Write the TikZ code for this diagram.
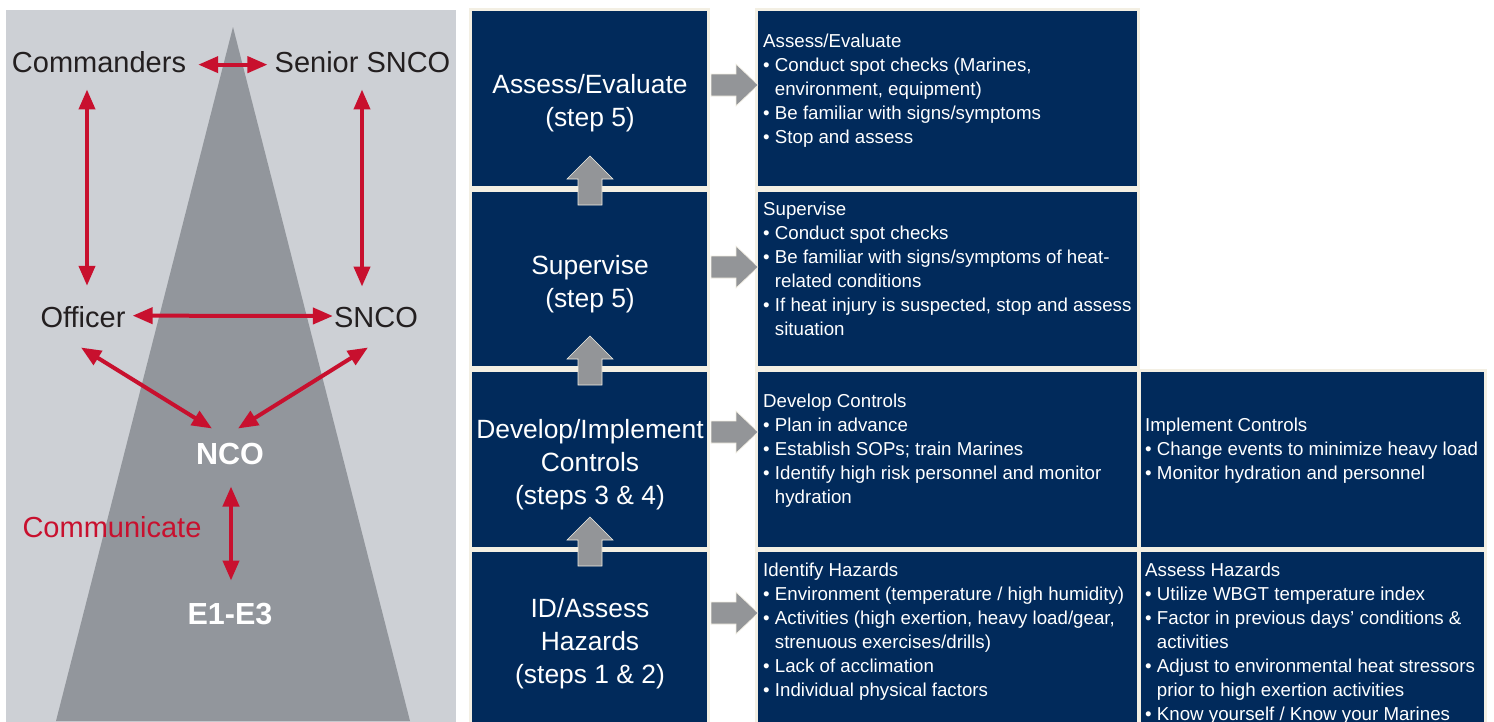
\documentclass[tikz,border=0pt]{standalone}
\usepackage{fontspec}
\setmainfont{Liberation Sans}
\usetikzlibrary{arrows.meta,calc}
\definecolor{panel}{HTML}{CDD0D5}
\definecolor{tri}{HTML}{92969C}
\definecolor{navy}{HTML}{012A5B}
\definecolor{cream}{HTML}{F3EFE3}
\definecolor{redc}{HTML}{C8102E}
\definecolor{darktxt}{HTML}{231F20}
\definecolor{garrow}{HTML}{939598}
\newcommand\ind{\hphantom{•\ }}
\begin{document}
\begin{tikzpicture}[x=1pt,y=-1pt,
  cell/.style={draw=cream, fill=navy, line width=3pt, outer sep=0pt, inner sep=0pt, anchor=north west},
  rank/.style={font=\fontsize{29}{34}\selectfont, text=darktxt, inner sep=0pt, anchor=base},
  rankw/.style={font=\fontsize{30.5}{36}\selectfont\bfseries, text=white, inner sep=0pt, anchor=base},
  link/.style={draw=redc, line width=4pt, {Triangle[length=20pt,width=16pt]}-{Triangle[length=20pt,width=16pt]}},
  steptxt/.style={text=white, font=\fontsize{26.4}{33}\selectfont, align=center, inner sep=0pt},
  detail/.style={text=white, font=\fontsize{18.7}{24}\selectfont, align=left, inner sep=0pt, anchor=base west},
  blockarrow/.style={fill=garrow, draw=cream, line width=0.6pt}
]
\clip (0,0) rectangle (1494,721);
\fill[white] (0,0) rectangle (1494,721);
% left panel
\fill[panel] (6,10) rectangle (456,730);
\fill[tri] (233,27) -- (410,721) -- (56,721) -- cycle;

\node[rank] (cmd) at (99,72) {Commanders};
\node[rank] (ssnco) at (362.5,72) {Senior SNCO};
\node[rank] (off) at (83,327) {Officer};
\node[rank] (snco) at (376,327) {SNCO};
\node[rankw] (nco) at (230,464) {NCO};
\node[rankw] (e1) at (230,624) {E1-E3};
\node[rank, text=redc] (comm) at (112,537) {Communicate};

\draw[link] ($(cmd.east)+(12,3)$) -- ($(ssnco.west)+(-7,3)$);
\draw[link] ($(cmd.south)+(-12,17)$) -- ($(off.north)+(4,-20)$);
\draw[link] ($(ssnco.south)+(-0.5,17)$) -- ($(snco.north)+(-14,-20)$);
\draw[link] ($(off.east)+(7,-1)$) -- ($(snco.west)+(-1,-1)$);
\draw[link] ($(off.south)+(-2,20)$) -- ($(nco.north)+(-18,-14)$);
\draw[link] ($(snco.south)+(-8,20)$) -- ($(nco.north)+(8,-14)$);
\draw[link] ($(nco.south)+(1,22)$) -- ($(e1.north)+(1,-22)$);

% step cells
\node[cell, minimum width=238pt, minimum height=178pt] (s5a) at (470.5,9.5) {};
\node[cell, minimum width=238pt, minimum height=177pt] (s5s) at (470.5,190.5) {};
\node[cell, minimum width=238pt, minimum height=178pt] (s34) at (470.5,370.5) {};
\node[cell, minimum width=238pt, minimum height=200pt] (s12) at (470.5,550.5) {};
% detail cells
\node[cell, minimum width=382pt, minimum height=178pt] (m1) at (756.5,9.5) {};
\node[cell, minimum width=382pt, minimum height=177pt] (m2) at (756.5,190.5) {};
\node[cell, minimum width=382pt, minimum height=178pt] (m3) at (756.5,370.5) {};
\node[cell, minimum width=382pt, minimum height=200pt] (m4) at (756.5,550.5) {};
\node[cell, minimum width=346pt, minimum height=178pt] (r3) at (1139.5,370.5) {};
\node[cell, minimum width=346pt, minimum height=200pt] (r4) at (1139.5,550.5) {};

% step texts
\node[steptxt] (t5a) at (590,103.5) {Assess/Evaluate\\(step 5)};
\node[steptxt] (t5s) at (590,284.5) {Supervise\\(step 5)};
\node[steptxt] (t34) at (590,465) {Develop/Implement\\Controls\\(steps 3 \& 4)};
\node[steptxt] (t12) at (590,644) {ID/Assess\\Hazards\\(steps 1 \& 2)};

% detail texts (anchored at the baseline of the last line)
\node[detail] (d1) at (763,143) {Assess/Evaluate\\
• Conduct spot checks (Marines,\\
\ind environment, equipment)\\
• Be familiar with signs/symptoms\\
• Stop and assess};
\node[detail] (d2) at (763,335) {Supervise\\
• Conduct spot checks\\
• Be familiar with signs/symptoms of heat-\\
\ind related conditions\\
• If heat injury is suspected, stop and assess\\
\ind situation};
\node[detail] (d3) at (763,503) {Develop Controls\\
• Plan in advance\\
• Establish SOPs; train Marines\\
• Identify high risk personnel and monitor\\
\ind hydration};
\node[detail] (d3r) at (1145,479) {Implement Controls\\
• Change events to minimize heavy load\\
• Monitor hydration and personnel};
\node[detail] (d4) at (763,696) {Identify Hazards\\
• Environment (temperature / high humidity)\\
• Activities (high exertion, heavy load/gear,\\
\ind strenuous exercises/drills)\\
• Lack of acclimation\\
• Individual physical factors};
\node[detail] (d4r) at (1145,720) {Assess Hazards\\
• Utilize WBGT temperature index\\
• Factor in previous days’ conditions \&\\
\ind activities\\
• Adjust to environmental heat stressors\\
\ind prior to high exertion activities\\
• Know yourself / Know your Marines};

% block arrows to the right
\draw[blockarrow] ($(s5a.east)+(2.5,-24.5)$) -- ++(25,0) -- ++(0,-10) -- ++(22,21) -- ++(-22,21) -- ++(0,-10) -- ++(-25,0) -- cycle;
\draw[blockarrow] ($(s5s.east)+(2.5,-23)$) -- ++(25,0) -- ++(0,-10) -- ++(22,21) -- ++(-22,21) -- ++(0,-10) -- ++(-25,0) -- cycle;
\draw[blockarrow] ($(s34.east)+(2.5,-38.5)$) -- ++(25,0) -- ++(0,-10) -- ++(22,21) -- ++(-22,21) -- ++(0,-10) -- ++(-25,0) -- cycle;
\draw[blockarrow] ($(s12.east)+(2.5,-48.5)$) -- ++(25,0) -- ++(0,-10) -- ++(22,21) -- ++(-22,21) -- ++(0,-10) -- ++(-25,0) -- cycle;
% block arrows upward
\draw[blockarrow] ($(s5s.north)+(-11.5,14.5)$) -- ++(0,-26) -- ++(-11,0) -- ++(23,-23) -- ++(23,23) -- ++(-11,0) -- ++(0,26) -- cycle;
\draw[blockarrow] ($(s34.north)+(-11.5,14.5)$) -- ++(0,-26) -- ++(-11,0) -- ++(23,-23) -- ++(23,23) -- ++(-11,0) -- ++(0,26) -- cycle;
\draw[blockarrow] ($(s12.north)+(-11.5,15.5)$) -- ++(0,-26) -- ++(-11,0) -- ++(23,-23) -- ++(23,23) -- ++(-11,0) -- ++(0,26) -- cycle;
\end{tikzpicture}
\end{document}
